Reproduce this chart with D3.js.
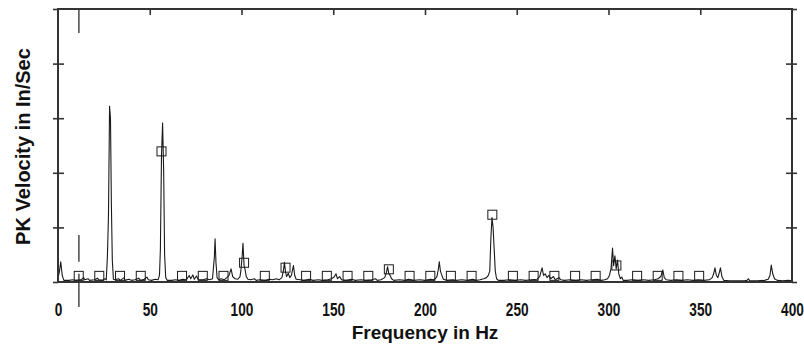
<!DOCTYPE html>
<html><head><meta charset="utf-8">
<script src="https://cdn.jsdelivr.net/npm/d3@7"></script>
<style>
body{margin:0;background:#fff;}
svg{display:block;}
text{font-family:"Liberation Sans",Arial,sans-serif;font-weight:bold;fill:#111;}
</style></head><body>
<svg id="chart" width="804" height="354"></svg>
<script>
// Velocity spectrum vertices: [frequency Hz, peak velocity in/sec]
const spectrum = [
  [0,0.006],[0.8,0.02],[1.5,0.037],[2.3,0.012],[3.2,0.003],[6,0.003],[8,0.004],[9.5,0.003],
  [12.5,0.004],[14,0.008],[14.6,0.004],[16.5,0.006],[17.2,0.003],[20,0.004],[21.5,0.007],[22.3,0.004],
  [24,0.003],[25.5,0.006],[26.3,0.004],
  [26.9,0.045],[27.5,0.12],[28.1,0.322],[28.6,0.30],[29.1,0.14],[29.6,0.04],[30.2,0.005],
  [31,0.004],[33,0.006],[34,0.003],[36,0.008],[36.6,0.003],[38.5,0.005],[40,0.003],[42,0.004],
  [44,0.007],[45,0.003],[47,0.005],[48.5,0.009],[49.2,0.004],[51,0.003],[53,0.005],[54.5,0.004],
  [55.3,0.012],[55.8,0.06],[56.4,0.231],[57.0,0.291],[57.6,0.2],[58.1,0.05],[58.7,0.008],[59.5,0.003],
  [62,0.003],[64,0.004],[66,0.003],[68,0.005],[70,0.004],[71.5,0.012],[72.3,0.006],[73.5,0.013],
  [74.3,0.005],[75.5,0.011],[76.5,0.004],[79,0.004],[81,0.006],[82.5,0.004],
  [84.2,0.006],[84.8,0.03],[85.2,0.045],[85.6,0.079],[86.1,0.035],[86.7,0.008],[87.5,0.004],
  [89,0.006],[90.5,0.004],[92,0.008],[93.2,0.012],[94.3,0.024],[95.2,0.01],[96.5,0.006],[98,0.005],[99.2,0.01],
  [99.8,0.025],[100.3,0.045],[100.8,0.071],[101.4,0.03],[102.0,0.022],[102.6,0.01],[103.5,0.005],
  [105,0.004],[107,0.006],[108,0.003],[110,0.004],[113,0.003],[115,0.005],[117,0.004],[119,0.006],
  [120.5,0.004],[122,0.008],
  [122.8,0.02],[123.4,0.036],[124.0,0.018],[124.6,0.01],[125.5,0.016],[126.3,0.008],[127.2,0.012],
  [128.3,0.03],[129.0,0.012],[129.8,0.005],
  [132,0.004],[134,0.003],[137,0.005],[139,0.003],[142,0.004],[144,0.003],[147,0.004],[149,0.006],
  [150.5,0.009],[151.5,0.015],[152.3,0.006],[153.5,0.01],[154.5,0.004],[157,0.003],[160,0.005],
  [162,0.003],[165,0.004],[168,0.003],[171,0.004],[173,0.006],[174,0.003],[176,0.004],[178,0.008],
  [178.8,0.015],[179.6,0.028],[180.3,0.015],[181.0,0.012],[181.8,0.006],[183,0.003],
  [186,0.004],[189,0.003],[191,0.005],[194,0.003],[197,0.004],[200,0.003],[203,0.005],[205,0.004],[206.5,0.01],
  [207.2,0.022],[207.8,0.037],[208.4,0.02],[209.2,0.012],[210,0.005],
  [212,0.003],[215,0.004],[217,0.003],[220,0.004],[223,0.003],[226,0.005],[228,0.003],[230,0.004],
  [232,0.006],[233.5,0.008],
  [234.5,0.012],[235.3,0.02],[235.9,0.08],[236.5,0.118],[237.1,0.1],[237.7,0.06],[238.3,0.02],[239,0.006],[240,0.003],
  [243,0.003],[246,0.004],[249,0.003],[252,0.004],[255,0.003],[258,0.004],[261,0.005],[262.5,0.01],
  [263.8,0.026],[264.6,0.012],[265.5,0.015],[266.5,0.008],[267.5,0.012],[268.5,0.006],[270,0.01],
  [271,0.004],[273,0.008],[274,0.004],[276,0.003],[279,0.004],[282,0.003],[285,0.004],[288,0.003],
  [291,0.004],[294,0.005],[296,0.003],[298,0.004],[299.5,0.006],
  [300.5,0.012],[301.4,0.025],[302.2,0.062],[302.8,0.03],[303.5,0.048],[304.2,0.024],[304.9,0.04],
  [305.6,0.015],[306.5,0.006],[307.3,0.009],[308,0.003],
  [310,0.003],[313,0.004],[316,0.003],[319,0.004],[322,0.003],[325,0.004],[327,0.006],[328.5,0.01],
  [329.6,0.022],[330.4,0.008],[331.5,0.004],[334,0.003],[337,0.004],[340,0.003],[343,0.004],[346,0.003],
  [349,0.004],[352,0.003],[355,0.004],[356.5,0.008],
  [357.3,0.015],[358.0,0.026],[358.8,0.012],[359.6,0.008],[360.3,0.016],[361.0,0.026],[361.8,0.01],[362.8,0.003],
  [366,0.002],[370,0.002],[374,0.002],[375.5,0.003],[376.2,0.006],[377,0.002],[381,0.002],[385,0.003],
  [387,0.005],[388,0.012],[388.7,0.031],[389.5,0.015],[390.5,0.006],[392,0.003],[395,0.002],[398,0.003],[400,0.002]
];

// Harmonic markers of the 11.27 Hz fundamental (orders 1..31)
const harmonicHz = [11.3,22.5,33.8,45.1,56.4,67.6,78.9,90.2,101.4,112.7,124.0,135.2,146.5,157.8,169.1,
  180.3,191.6,202.9,214.1,225.4,236.7,247.9,259.2,270.5,281.8,293.0,304.3,315.6,326.8,338.1,349.4];
const harmonicAmp = [0.003,0.003,0.003,0.003,0.231,0.003,0.003,0.003,0.027,0.003,0.018,0.003,0.003,0.003,0.003,
  0.015,0.003,0.003,0.003,0.003,0.115,0.003,0.003,0.003,0.003,0.003,0.022,0.003,0.003,0.003,0.003];

// Cursor at the fundamental, drawn as broken segments (amplitude ranges)
const cursorHz = 11.4;
const cursorSpans = [[0.5,0.456],[0.086,0.037],[0.015,-0.046]];

const xTicks = [0,50,100,150,200,250,300,350,400];
const yTicks = [0,0.1,0.2,0.3,0.4,0.5];

const svg = d3.select("#chart");
const x = d3.scaleLinear().domain([0,400]).range([58,792]);
const y = d3.scaleLinear().domain([0,0.5]).range([282,9]);
const ink = "#1a1a1a", axisInk = "#333";

// spectrum trace
svg.append("path")
  .datum(spectrum)
  .attr("fill","none").attr("stroke",ink).attr("stroke-width",1.1)
  .attr("stroke-linejoin","round")
  .attr("d", d3.line().x(d=>x(d[0])).y(d=>y(d[1])));

// harmonic markers: open squares sitting on the trace
const bs = 9;
svg.append("g").selectAll("rect")
  .data(harmonicHz.map((f,i)=>[f,harmonicAmp[i]]))
  .join("rect")
  .attr("x",d=>x(d[0])-bs/2).attr("y",d=>y(d[1])-bs)
  .attr("width",bs).attr("height",bs)
  .attr("fill","none").attr("stroke",ink).attr("stroke-width",1);

// cursor
svg.append("g").selectAll("line")
  .data(cursorSpans).join("line")
  .attr("x1",x(cursorHz)).attr("x2",x(cursorHz))
  .attr("y1",d=>y(d[0])).attr("y2",d=>y(d[1]))
  .attr("stroke",ink).attr("stroke-width",1.2);

// frame
svg.append("rect")
  .attr("x",x(0)).attr("y",y(0.5))
  .attr("width",x(400)-x(0)).attr("height",y(0)-y(0.5))
  .attr("fill","none").attr("stroke",axisInk).attr("stroke-width",2);

// tick marks crossing left and right axes
const tickStyle = g => { g.select(".domain").remove(); g.selectAll("line").attr("stroke",axisInk).attr("stroke-width",1.6); };
svg.append("g").attr("transform",`translate(${x(0)},0)`)
  .call(d3.axisLeft(y).tickValues(yTicks).tickSize(5).tickFormat("")).call(tickStyle);
svg.append("g").attr("transform",`translate(${x(0)},0)`)
  .call(d3.axisRight(y).tickValues(yTicks.slice(1,-1)).tickSize(6).tickFormat("")).call(tickStyle);
svg.append("g").attr("transform",`translate(${x(400)},0)`)
  .call(d3.axisLeft(y).tickValues(yTicks.slice(1,-1)).tickSize(6).tickFormat("")).call(tickStyle);
svg.append("g").attr("transform",`translate(${x(400)},0)`)
  .call(d3.axisRight(y).tickValues(yTicks).tickSize(5).tickFormat("")).call(tickStyle);

// small inward ticks along the top edge
svg.append("g").attr("transform",`translate(0,${y(0.5)})`)
  .call(d3.axisBottom(x).tickValues(xTicks.slice(1,-1)).tickSize(6).tickFormat("")).call(tickStyle);

// frequency labels, set in a narrow bold face
const xa = svg.append("g").attr("transform",`translate(0,${y(0)})`)
  .call(d3.axisBottom(x).tickValues(xTicks).tickSize(0).tickPadding(22).tickFormat(d3.format("d")));
xa.select(".domain").remove();
xa.selectAll("text").attr("font-size",17.5).attr("font-family",null).attr("fill","#111")
  .attr("transform","scale(0.78,1)");

svg.append("text").attr("x",(x(0)+x(400))/2).attr("y",339)
  .attr("text-anchor","middle").attr("font-size",19).text("Frequency in Hz");
svg.append("text").attr("transform",`translate(30,${(y(0)+y(0.5))/2+1}) rotate(-90)`)
  .attr("text-anchor","middle").attr("font-size",20).text("PK Velocity in In/Sec");
</script></body></html>
